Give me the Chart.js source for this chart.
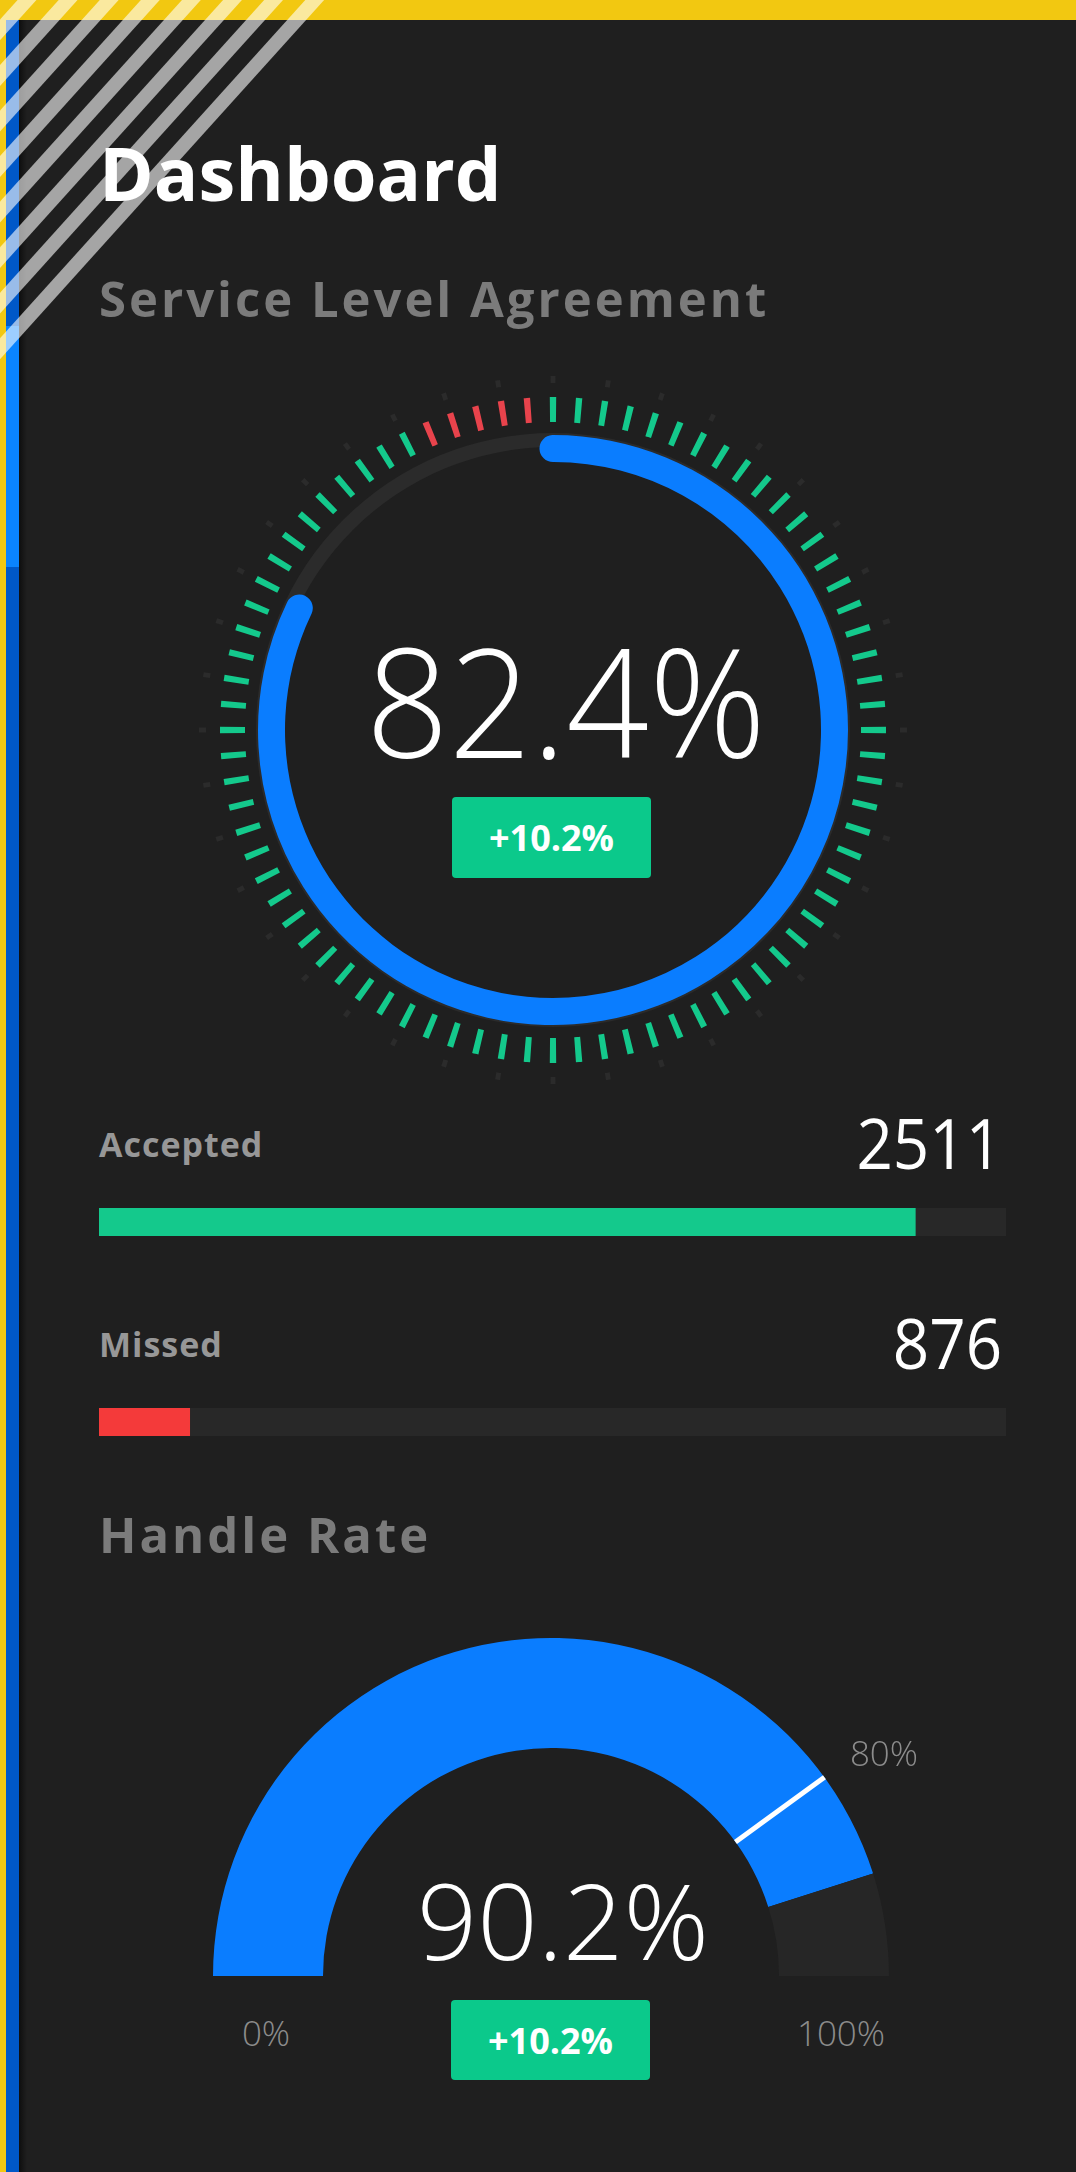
<!DOCTYPE html>
<html>
<head>
<meta charset="utf-8">
<title>Dashboard</title>
<script src="https://cdn.jsdelivr.net/npm/chart.js@4.4.1/dist/chart.umd.min.js"></script>
<style>
  html, body { margin: 0; padding: 0; }
  body {
    width: 1076px; height: 2172px; position: relative; overflow: hidden;
    background: #f2c811;
    font-family: 'Open Sans', 'Noto Sans', sans-serif;
  }
  #panel { position: absolute; left: 19px; top: 20px; right: 0; bottom: 0; background: #1f1f1f; }
  #rail { position: absolute; left: 6px; top: 20px; width: 13px; bottom: 0; background: #0058c8; }
  #rail-active { position: absolute; left: 6px; top: 326px; width: 13px; height: 241px; background: #0a84ff; }
  #rail-shadow {
    position: absolute; left: 19px; top: 20px; width: 8px; bottom: 0;
    background: linear-gradient(to right, rgba(0,0,0,.55), rgba(0,0,0,0));
  }
  .abs { position: absolute; white-space: nowrap; line-height: 1; }
  .title { left: 99px; top: 136px; font-size: 74px; font-weight: 700; color: #fff; }
  .heading { left: 99px; font-size: 49px; font-weight: 700; color: #7b7b7b; letter-spacing: 3px; }
  .big { font-weight: 300; color: #fff; transform: translateX(-50%); }
  .badge {
    position: absolute; width: 199px; height: 81px; border-radius: 4px; background: #0bc98b;
    display: flex; align-items: center; justify-content: center;
    color: #fff; font-size: 36px; font-weight: 700;
  }
  .row-label { left: 99px; font-size: 34px; font-weight: 700; color: #979797; letter-spacing: 1px; }
  .row-value { right: 74px; font-size: 70px; font-weight: 400; color: #fff; transform: scaleX(.91); transform-origin: right center; }
  .tick-label { font-size: 35px; font-weight: 300; color: #8c8c8c; transform: translateX(-50%); }
  canvas { position: absolute; }
  #stripes { left: 0; top: 0; z-index: 10; pointer-events: none; }
</style>
</head>
<body>
<div id="panel"></div>
<div id="rail"></div>
<div id="rail-active"></div>
<div id="rail-shadow"></div>

<div class="abs title">Dashboard</div>
<div class="abs heading" style="top:274px">Service Level Agreement</div>

<canvas id="sla-dots" width="720" height="720" style="left:193px;top:370px"></canvas>
<canvas id="sla-ticks" width="720" height="720" style="left:193px;top:370px"></canvas>
<canvas id="sla-track" width="720" height="720" style="left:193px;top:370px"></canvas>
<canvas id="sla-arc" width="720" height="720" style="left:193px;top:370px"></canvas>
<div class="abs big" id="sla-text" style="left:566px;top:624px;font-size:151px;transform:translateX(-50%) scaleX(.96)"></div>
<div class="badge" id="sla-badge" style="left:452px;top:797px"></div>

<div id="rows"></div>

<div class="abs heading" style="top:1510px">Handle Rate</div>
<canvas id="gauge" width="760" height="400" style="left:171px;top:1607px"></canvas>
<div class="abs big" id="gauge-text" style="left:563px;top:1866px;font-size:106px"></div>
<div class="badge" id="gauge-badge" style="left:451px;top:2000px;height:80px"></div>
<div class="abs tick-label" id="lbl-min" style="left:266px;top:2015px"></div>
<div class="abs tick-label" id="lbl-target" style="left:884px;top:1735px"></div>
<div class="abs tick-label" id="lbl-max" style="left:841px;top:2015px"></div>

<canvas id="stripes" width="360" height="400"></canvas>

<script>
// ---- data ----
const slaPercent = [82.4];
const slaChange = [10.2];
// one entry per interval tick, clockwise from 12 o'clock: 1 = met, 0 = missed
const intervalStatus = [
  1,1,1,1,1,1,1,1,1,1, 1,1,1,1,1,1,1,1,1,1,
  1,1,1,1,1,1,1,1,1,1, 1,1,1,1,1,1,1,1,1,1,
  1,1,1,1,1,1,1,1,1,1, 1,1,1,1,1,1,1,1,1,1,
  1,1,1,1,1,1,1,1,1,1, 1,1,1,1,1,0,0,0,0,0
];
const callCategories = ['Accepted', 'Missed'];
const callCounts = [2511, 876];
const callShares = [90, 10];
const handleRate = [90.2];
const handleTarget = [80];
const handleChange = [10.2];
const gaugeTickLabels = ['0%', '80%', '100%'];

// ---- colours ----
const BLUE = '#0a7dff';
const GREEN = '#14c98c';
const RED = '#e8434c';
const CLEAR = 'rgba(0,0,0,0)';

const baseOptions = {
  responsive: false,
  animation: false,
  events: [],
  plugins: { legend: { display: false }, tooltip: { enabled: false } }
};

function ring(id, data, colors, radius, inner, extra) {
  return new Chart(document.getElementById(id), {
    type: 'doughnut',
    data: { datasets: [{ data: data, backgroundColor: colors, borderWidth: 0, ...(extra.dataset || {}) }] },
    options: {
      ...baseOptions,
      radius: radius,
      cutout: (inner / radius * 100) + '%',
      rotation: extra.rotation || 0,
      circumference: extra.circumference || 360
    },
    plugins: extra.plugins || []
  });
}

// faint outer dots (decoration), 40 around the circle
const dotData = [], dotColors = [];
for (let i = 0; i < 40; i++) { dotData.push(0.8, 8.2); dotColors.push('#2b2b2b', CLEAR); }
ring('sla-dots', dotData, dotColors, 354, 347, { rotation: -0.4 });

// interval ticks
const TICK = 1.1, GAP = 3.4;
const tickData = [], tickColors = [];
intervalStatus.forEach(s => {
  tickData.push(TICK, GAP);
  tickColors.push(s ? GREEN : RED, CLEAR);
});
ring('sla-ticks', tickData, tickColors, 333, 308, { rotation: -TICK / 2 });

// thin background track
ring('sla-track', [100], ['#2b2b2b'], 297, 283, {});

// main SLA arc with rounded ends
const CAP = 2.75;
ring('sla-arc', [slaPercent[0], 100 - slaPercent[0]], [BLUE, CLEAR], 295, 268, {
  rotation: -CAP,
  circumference: 360 + 2 * CAP,
  dataset: { borderRadius: 14 }
});

document.getElementById('sla-text').textContent = slaPercent[0] + '%';
document.getElementById('sla-badge').textContent = '+' + slaChange[0] + '%';

// accepted / missed rows
const rows = document.getElementById('rows');
const barColors = [GREEN, '#f43a3a'];
callCategories.forEach((name, i) => {
  const off = 200 * i;
  const label = document.createElement('div');
  label.className = 'abs row-label';
  label.style.top = (1127 + off) + 'px';
  label.textContent = name;
  rows.appendChild(label);

  const value = document.createElement('div');
  value.className = 'abs row-value';
  value.style.top = (1107 + off) + 'px';
  value.textContent = callCounts[i];
  rows.appendChild(value);

  const cv = document.createElement('canvas');
  cv.width = 907; cv.height = 28;
  cv.style.left = '99px'; cv.style.top = (1208 + off) + 'px';
  rows.appendChild(cv);
  new Chart(cv, {
    type: 'bar',
    data: {
      labels: [name],
      datasets: [
        { data: [callShares[i]], backgroundColor: barColors[i], borderWidth: 0, grouped: false, barPercentage: 1, categoryPercentage: 1 },
        { data: [100], backgroundColor: '#282828', borderWidth: 0, grouped: false, barPercentage: 1, categoryPercentage: 1 }
      ]
    },
    options: {
      ...baseOptions,
      indexAxis: 'y',
      layout: { padding: 0 },
      scales: { x: { display: false, min: 0, max: 100 }, y: { display: false } }
    }
  });
});

// handle rate gauge with target marker
const targetMarker = {
  id: 'targetMarker',
  afterDatasetsDraw(chart) {
    const arc = chart.getDatasetMeta(0).data[0];
    const { x, y, innerRadius, outerRadius, startAngle } = arc.getProps(['x', 'y', 'innerRadius', 'outerRadius', 'startAngle'], true);
    const a = startAngle + handleTarget[0] / 100 * chart.options.circumference * Math.PI / 180;
    const ctx = chart.ctx;
    ctx.save();
    ctx.strokeStyle = '#ffffff';
    ctx.lineWidth = 5;
    ctx.beginPath();
    ctx.moveTo(x + innerRadius * Math.cos(a), y + innerRadius * Math.sin(a));
    ctx.lineTo(x + outerRadius * Math.cos(a), y + outerRadius * Math.sin(a));
    ctx.stroke();
    ctx.restore();
  }
};
ring('gauge', [handleRate[0], 100 - handleRate[0]], [BLUE, '#262626'], 338, 228, {
  rotation: -90,
  circumference: 180,
  plugins: [targetMarker]
});

document.getElementById('gauge-text').textContent = handleRate[0] + '%';
document.getElementById('gauge-badge').textContent = '+' + handleChange[0] + '%';
document.getElementById('lbl-min').textContent = gaugeTickLabels[0];
document.getElementById('lbl-target').textContent = gaugeTickLabels[1];
document.getElementById('lbl-max').textContent = gaugeTickLabels[2];

// diagonal corner stripes
const deco = document.getElementById('stripes').getContext('2d');
deco.strokeStyle = 'rgba(255,255,255,0.6)';
deco.lineWidth = 14;
const slope = 1.108;
for (let i = 0; i < 8; i++) {
  const x0 = 27 + 41.1 * i;
  deco.beginPath();
  deco.moveTo(x0 + 30, -30 * slope);
  deco.lineTo(-30, (x0 + 30) * slope);
  deco.stroke();
}
</script>
</body>
</html>
